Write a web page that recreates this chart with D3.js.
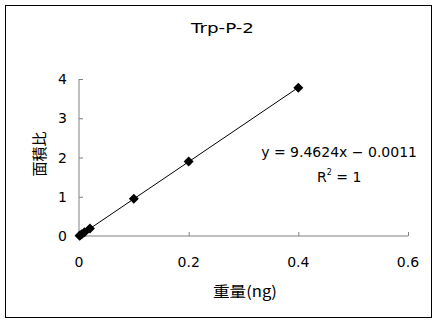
<!DOCTYPE html>
<html>
<head>
<meta charset="utf-8">
<script src="https://cdn.jsdelivr.net/npm/d3@7"></script>
<style>
body { margin: 0; background: #fff; }
text { font-family: "DejaVu Sans", "Noto Sans CJK JP", sans-serif; fill: #000; }
.cjk { font-family: "Noto Sans CJK JP", sans-serif; }
</style>
</head>
<body>
<script>
var xs = [0.001, 0.002, 0.005, 0.01, 0.02, 0.1, 0.2, 0.4];
var ys = [0.008, 0.018, 0.046, 0.093, 0.19, 0.95, 1.9, 3.78];
var xTicks = [0, 0.2, 0.4, 0.6];
var yTicks = [0, 1, 2, 3, 4];
var slope = 9.4624, intercept = -0.0011;

var WIDTH = 434, HEIGHT = 320;
var L = 79, R = 408, T = 79, B = 236;

var translate = function (x, y) { return "translate(" + x + "," + y + ")"; };

var xScale = d3.scaleLinear().domain([0, 0.6]).range([L, R]);
var yScale = d3.scaleLinear().domain([0, 4]).range([B, T]);

var svg = d3.select('body').append('svg')
    .attr('width', WIDTH)
    .attr('height', HEIGHT);

svg.append('rect')
    .attr('x', 5.5).attr('y', 5.5)
    .attr('width', 426).attr('height', 312)
    .attr('fill', 'none').attr('stroke', '#000').attr('stroke-width', 1);

svg.append('text')
    .attr('x', 191).attr('y', 33)
    .attr('textLength', 63).attr('lengthAdjust', 'spacingAndGlyphs')
    .style('font-size', '14px')
    .text('Trp-P-2');

// axes
var xAxis = d3.axisTop(xScale).tickValues(xTicks).tickSize(4).tickFormat('');
var yAxis = d3.axisRight(yScale).tickValues(yTicks).tickSize(4).tickFormat('');

var gx = svg.append('g').attr('transform', translate(0, B)).call(xAxis);
var gy = svg.append('g').attr('transform', translate(L, 0)).call(yAxis);
gx.selectAll('path, line').attr('stroke', '#808080');
gy.selectAll('path, line').attr('stroke', '#808080');
gx.select('.domain').attr('d', 'M' + L + ',0H' + R);
gy.select('.domain').attr('d', 'M0,' + B + 'V' + T);

svg.append('g').selectAll('text')
    .data(xTicks).enter().append('text')
    .attr('x', function (d) { return xScale(d); })
    .attr('y', 267)
    .attr('text-anchor', 'middle')
    .style('font-size', '14px')
    .text(function (d) { return d3.format('')(d); });

svg.append('g').selectAll('text')
    .data(yTicks).enter().append('text')
    .attr('x', 67)
    .attr('y', function (d) { return yScale(d) + 5; })
    .attr('text-anchor', 'end')
    .style('font-size', '14px')
    .text(function (d) { return d; });

// trendline
svg.append('line')
    .attr('x1', xScale(0)).attr('y1', yScale(Math.max(0, intercept)))
    .attr('x2', xScale(0.4)).attr('y2', yScale(slope * 0.4 + intercept))
    .attr('stroke', '#000').attr('stroke-width', 1);

var diamond = d3.symbol().type(d3.symbolSquare).size(50);
svg.append('g').selectAll('path')
    .data(xs).enter().append('path')
    .attr('d', diamond)
    .attr('transform', function (d, i) {
        return translate(xScale(d), yScale(ys[i])) + ' rotate(45)';
    })
    .attr('fill', '#000');

svg.append('text')
    .attr('x', 417).attr('y', 157)
    .attr('text-anchor', 'end')
    .style('font-size', '14px')
    .text('y = 9.4624x \u2212 0.0011');

var r2 = svg.append('text')
    .attr('x', 317).attr('y', 182)
    .style('font-size', '14px');
r2.append('tspan').text('R');
r2.append('tspan').attr('dy', -7).style('font-size', '8px').text('2');
r2.append('tspan').attr('dy', 7).text(' = 1');

svg.append('text')
    .attr('class', 'cjk')
    .attr('x', 245).attr('y', 297)
    .attr('text-anchor', 'middle')
    .attr('textLength', 64).attr('lengthAdjust', 'spacingAndGlyphs')
    .style('font-size', '15px')
    .text('重量(ng)');

svg.append('text')
    .attr('class', 'cjk')
    .attr('transform', translate(38, 154) + ' rotate(-90)')
    .attr('text-anchor', 'middle')
    .attr('dominant-baseline', 'central')
    .style('font-size', '15px')
    .text('面積比');
</script>
</body>
</html>
